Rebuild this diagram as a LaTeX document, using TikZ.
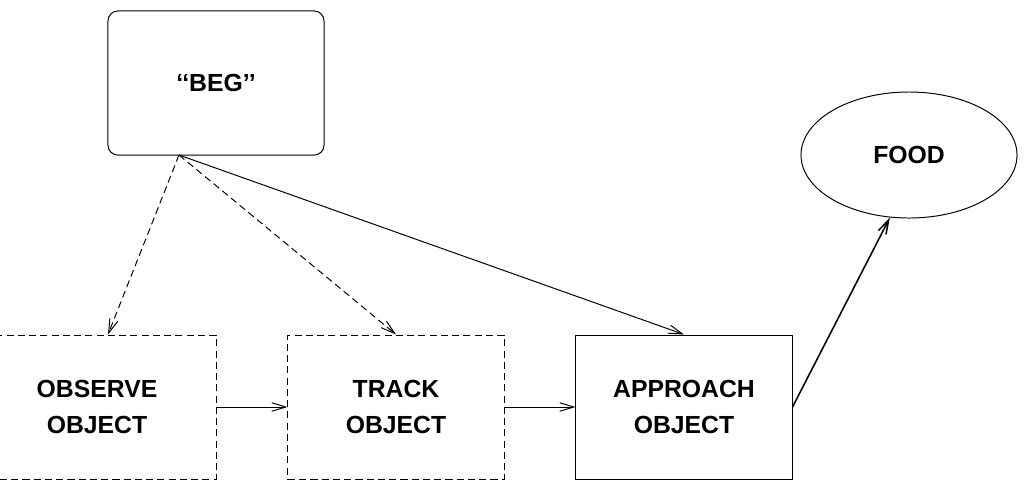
\documentclass[tikz,border=0pt]{standalone}
\usepackage{fontspec}
\setmainfont{Liberation Sans}
\usepackage{tikz}
\usetikzlibrary{arrows.meta,shapes.geometric}

\begin{document}
\begin{tikzpicture}[x=0.025cm,y=-0.025cm]
\tikzset{state/.style = {shape=rectangle,draw,line width=0.7pt,minimum width=5.4cm,minimum height=3.6cm,align=center,font=\fontsize{17.6}{25}\selectfont\bfseries}}
\tikzset{dstate/.style = {state,dash pattern=on 5pt off 3pt}}
\tikzset{edge/.style = {->,line width=0.7pt,> = {Straight Barb[length=10pt,width=6pt]}}}
\tikzset{dedge/.style = {edge,dash pattern=on 5pt off 3pt}}
\useasboundingbox (0,0) rectangle (1026,483);
\node[state,rounded corners=7pt] (beg) at (216,83) {{`}{`}BEG{'}{'}};
\node[dstate] (observe) at (108,407) {\hspace*{-0.55cm}OBSERVE\\\hspace*{-0.55cm}OBJECT};
\node[dstate] (track) at (396,407) {TRACK\\OBJECT};
\node[state] (approach) at (684,407) {APPROACH\\OBJECT};
\node[state,shape=ellipse,minimum width=5.4cm,minimum height=3.15cm] (food) at (909,155) {FOOD};
\coordinate (begfoot) at (179,155);
\draw[dedge] (begfoot) to (observe.north);
\draw[dedge] (begfoot) to (track.north);
\draw[edge] (begfoot) to (approach.north);
\draw[edge] (observe) to (track);
\draw[edge] (track) to (approach);
\draw[edge,line width=1.1pt] (approach.east) to (food.253);
\end{tikzpicture}
\end{document}
